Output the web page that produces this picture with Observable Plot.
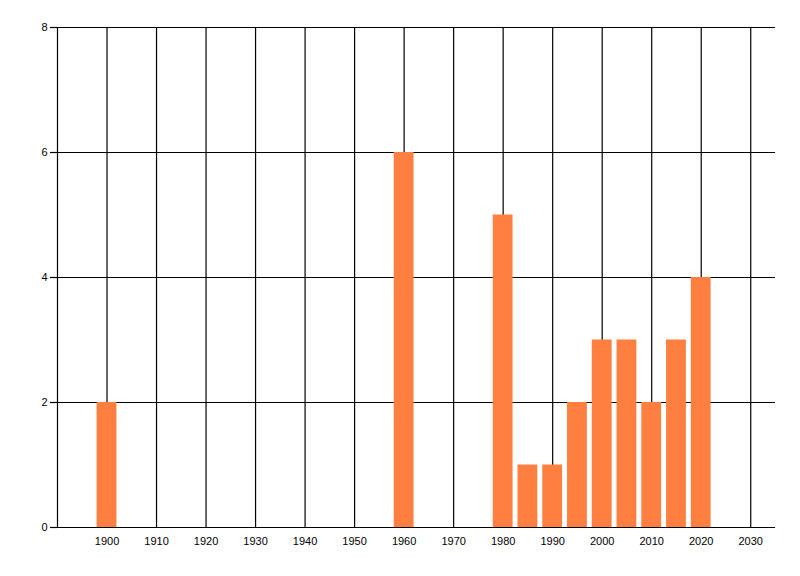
<!DOCTYPE html>
<html>
<head>
<meta charset="utf-8">
<script src="https://cdn.jsdelivr.net/npm/d3@7"></script>
<script src="https://cdn.jsdelivr.net/npm/@observablehq/plot@0.6"></script>
<style>
  html, body { margin: 0; padding: 0; background: #fff; }
  #chart svg { display: block; }
</style>
</head>
<body>
<div id="chart"></div>
<script>
const years = [1900, 1960, 1980, 1985, 1990, 1995, 2000, 2005, 2010, 2015, 2020];
const counts = [2, 6, 5, 1, 1, 2, 3, 3, 2, 3, 4];
const xTicks = [1900, 1910, 1920, 1930, 1940, 1950, 1960, 1970, 1980, 1990, 2000, 2010, 2020, 2030];
const yTicks = [0, 2, 4, 6, 8];
const xDomain = [1890, 2035];
const yDomain = [0, 8];
const barHalfWidth = 2;
const barColor = "#ff7f40";

const data = years.map((y, i) => ({year: y, count: counts[i]}));

const chart = Plot.plot({
  width: 800,
  height: 576,
  marginLeft: 57,
  marginRight: 25,
  marginTop: 27,
  marginBottom: 49,
  style: {fontFamily: "'Liberation Sans', Arial, sans-serif", fontSize: "11px", color: "#000", background: "#fff"},
  x: {domain: xDomain, ticks: xTicks, tickFormat: d => String(d), label: null, tickSize: 0, tickPadding: 10},
  y: {domain: yDomain, ticks: yTicks, label: null, tickSize: 7, tickPadding: 3},
  marks: [
    Plot.ruleX(xTicks, {y1: yDomain[0], y2: yDomain[1], stroke: "#000", strokeWidth: 1.2}),
    Plot.ruleY(yTicks, {x1: xDomain[0], x2: xDomain[1], stroke: "#000", strokeWidth: 1.2}),
    Plot.ruleX([xDomain[0]], {y1: yDomain[0], y2: yDomain[1], stroke: "#000", strokeWidth: 1.2}),
    Plot.rectY(data, {x1: d => d.year - barHalfWidth, x2: d => d.year + barHalfWidth, y: "count", fill: barColor, inset: 0}),
    Plot.axisX({ticks: xTicks, tickFormat: d => String(d), tickSize: 0, tickPadding: 10, label: null, fill: "#000"}),
    Plot.axisY({ticks: yTicks, tickSize: 7, tickPadding: 3, label: null, stroke: "#000", strokeWidth: 1.2, fill: "#000"})
  ]
});
document.getElementById("chart").appendChild(chart);
</script>
</body>
</html>
